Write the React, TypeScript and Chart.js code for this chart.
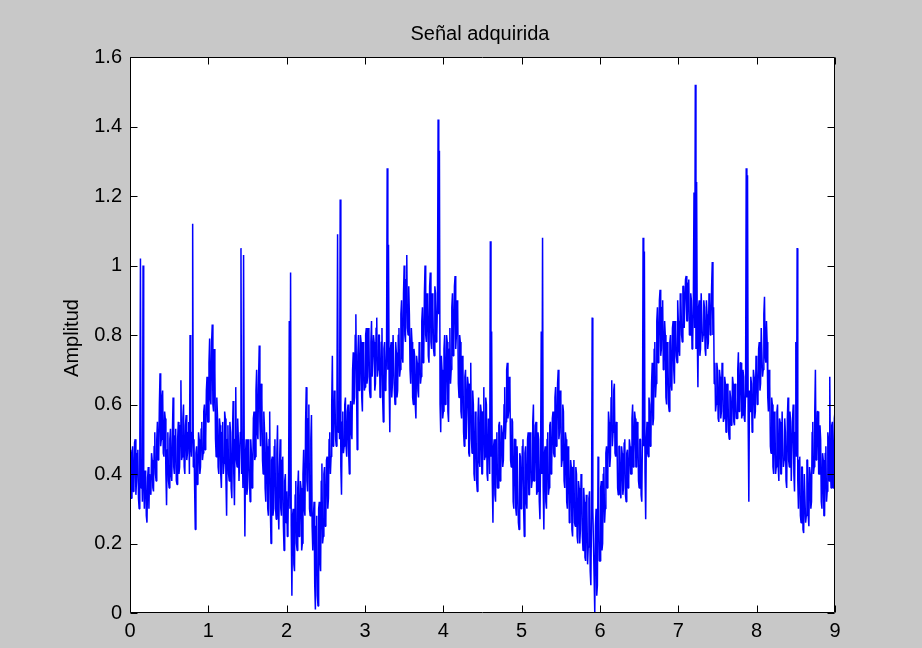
import React, { useEffect, useRef } from "react";
import { Chart, registerables } from "chart.js";

Chart.register(...registerables);

// Sampling: 120 samples per unit of the x axis.
const SAMPLES_PER_UNIT = 120;

// t = 0 .. 1
const seg0 = [
  0.40, 0.47, 0.33, 0.45, 0.48, 0.35, 0.36, 0.49, 0.50, 0.34, 0.38, 0.46, 0.47, 0.33, 0.30, 0.44, 1.02, 0.36, 0.42, 0.32,
  1.00, 0.38, 0.30, 0.41, 0.40, 0.28, 0.26, 0.39, 0.42, 0.30, 0.40, 0.36, 0.34, 0.46, 0.44, 0.36, 0.35, 0.48, 0.52, 0.40,
  0.38, 0.50, 0.55, 0.44, 0.45, 0.60, 0.69, 0.48, 0.50, 0.62, 0.64, 0.46, 0.45, 0.58, 0.56, 0.40, 0.31, 0.47, 0.52, 0.38,
  0.36, 0.50, 0.53, 0.40, 0.38, 0.52, 0.62, 0.42, 0.40, 0.51, 0.53, 0.38, 0.37, 0.50, 0.55, 0.40, 0.42, 0.54, 0.67, 0.44,
  0.45, 0.56, 0.60, 0.42, 0.40, 0.54, 0.57, 0.44, 0.46, 0.52, 0.55, 0.40, 0.80, 0.48, 0.45, 0.52, 1.12, 0.42, 0.50, 0.36,
  0.24, 0.46, 0.48, 0.37, 0.38, 0.52, 0.50, 0.40, 0.42, 0.53, 0.55, 0.44, 0.46, 0.58, 0.60, 0.47, 0.50, 0.64, 0.68, 0.55,
];
// t = 1 .. 2
const seg1 = [
  0.55, 0.72, 0.79, 0.62, 0.60, 0.78, 0.83, 0.60, 0.58, 0.76, 0.70, 0.50, 0.45, 0.62, 0.57, 0.42, 0.40, 0.56, 0.54, 0.40,
  0.36, 0.52, 0.55, 0.40, 0.43, 0.58, 0.56, 0.38, 0.28, 0.50, 0.54, 0.40, 0.38, 0.55, 0.52, 0.36, 0.33, 0.52, 0.61, 0.40,
  0.31, 0.50, 0.65, 0.44, 0.42, 0.56, 0.50, 0.38, 0.38, 0.52, 1.05, 0.40, 0.50, 0.36, 1.03, 0.45, 0.22, 0.46, 0.50, 0.34,
  0.36, 0.50, 0.48, 0.38, 0.32, 0.50, 0.46, 0.36, 0.40, 0.56, 0.58, 0.44, 0.45, 0.64, 0.70, 0.52, 0.50, 0.68, 0.77, 0.55,
  0.48, 0.66, 0.62, 0.44, 0.40, 0.58, 0.53, 0.36, 0.32, 0.52, 0.48, 0.30, 0.28, 0.50, 0.58, 0.30, 0.20, 0.44, 0.45, 0.28,
  0.30, 0.48, 0.50, 0.30, 0.27, 0.46, 0.54, 0.30, 0.24, 0.42, 0.50, 0.30, 0.28, 0.44, 0.45, 0.25, 0.18, 0.38, 0.40, 0.26,
];
// t = 2 .. 3
const seg2 = [
  0.35, 0.22, 0.25, 0.40, 0.84, 0.30, 0.98, 0.25, 0.05, 0.28, 0.30, 0.14, 0.12, 0.34, 0.38, 0.20, 0.18, 0.36, 0.41, 0.22,
  0.25, 0.38, 0.36, 0.18, 0.20, 0.40, 0.47, 0.30, 0.28, 0.55, 0.65, 0.38, 0.35, 0.56, 0.60, 0.30, 0.28, 0.50, 0.57, 0.25,
  0.18, 0.28, 0.32, 0.08, 0.01, 0.25, 0.28, 0.05, 0.02, 0.30, 0.32, 0.15, 0.12, 0.38, 0.43, 0.20, 0.22, 0.40, 0.42, 0.25,
  0.26, 0.44, 0.45, 0.30, 0.33, 0.50, 0.52, 0.40, 0.45, 0.60, 0.74, 0.48, 0.50, 0.64, 0.62, 0.50, 0.48, 0.60, 1.09, 0.52,
  0.60, 0.50, 1.19, 0.42, 0.34, 0.55, 0.58, 0.46, 0.48, 0.60, 0.62, 0.48, 0.45, 0.58, 0.60, 0.46, 0.40, 0.56, 0.61, 0.52,
  0.50, 0.70, 0.75, 0.60, 0.62, 0.80, 0.86, 0.66, 0.47, 0.74, 0.80, 0.64, 0.65, 0.80, 0.78, 0.62, 0.58, 0.78, 0.76, 0.64,
];
// t = 3 .. 4
const seg3 = [
  0.65, 0.80, 0.82, 0.66, 0.68, 0.82, 0.80, 0.64, 0.62, 0.78, 0.84, 0.68, 0.68, 0.80, 0.78, 0.64, 0.66, 0.82, 0.85, 0.68,
  0.70, 0.80, 0.80, 0.62, 0.63, 0.78, 0.82, 0.62, 0.55, 0.76, 0.78, 0.64, 0.66, 0.76, 1.28, 0.70, 1.06, 0.66, 0.52, 0.76,
  0.78, 0.62, 0.66, 0.80, 0.80, 0.64, 0.60, 0.78, 0.75, 0.62, 0.64, 0.80, 0.82, 0.68, 0.70, 0.86, 0.90, 0.74, 0.72, 0.92,
  1.00, 0.80, 0.78, 0.96, 1.03, 0.82, 0.80, 0.94, 0.86, 0.70, 0.66, 0.82, 0.78, 0.62, 0.60, 0.76, 0.74, 0.60, 0.56, 0.74,
  0.72, 0.64, 0.62, 0.78, 0.76, 0.66, 0.68, 0.84, 0.88, 0.72, 0.74, 0.92, 1.00, 0.80, 0.78, 0.92, 0.90, 0.74, 0.72, 0.94,
  0.98, 0.78, 0.76, 0.92, 0.88, 0.76, 0.74, 0.94, 0.92, 0.78, 0.80, 0.90, 1.42, 0.86, 1.33, 0.60, 0.52, 0.74, 0.70, 0.56,
];
// t = 4 .. 5
const seg4 = [
  0.58, 0.76, 0.80, 0.60, 0.62, 0.80, 0.78, 0.58, 0.55, 0.76, 0.82, 0.66, 0.70, 0.88, 0.92, 0.74, 0.78, 0.94, 0.97, 0.76,
  0.80, 0.90, 0.88, 0.66, 0.62, 0.80, 0.78, 0.58, 0.56, 0.74, 0.72, 0.52, 0.48, 0.68, 0.70, 0.50, 0.50, 0.68, 0.66, 0.46,
  0.45, 0.66, 0.72, 0.50, 0.46, 0.64, 0.60, 0.40, 0.38, 0.58, 0.56, 0.38, 0.35, 0.56, 0.62, 0.44, 0.42, 0.60, 0.58, 0.40,
  0.40, 0.58, 0.65, 0.44, 0.45, 0.62, 0.60, 0.40, 0.38, 0.56, 0.55, 0.40, 1.07, 0.45, 0.81, 0.38, 0.26, 0.48, 0.50, 0.34,
  0.32, 0.50, 0.52, 0.36, 0.36, 0.54, 0.55, 0.38, 0.40, 0.54, 0.52, 0.42, 0.44, 0.60, 0.65, 0.50, 0.55, 0.70, 0.72, 0.56,
  0.58, 0.68, 0.66, 0.44, 0.42, 0.56, 0.55, 0.32, 0.30, 0.50, 0.50, 0.30, 0.28, 0.48, 0.48, 0.26, 0.24, 0.46, 0.45, 0.30,
];
// t = 5 .. 6
const seg5 = [
  0.35, 0.48, 0.50, 0.30, 0.22, 0.46, 0.48, 0.32, 0.30, 0.50, 0.52, 0.34, 0.34, 0.52, 0.50, 0.36, 0.38, 0.55, 0.60, 0.38,
  0.40, 0.54, 0.55, 0.34, 0.35, 0.52, 0.50, 0.32, 0.27, 0.45, 0.81, 0.40, 1.08, 0.36, 0.24, 0.46, 0.48, 0.32, 0.30, 0.50,
  0.52, 0.34, 0.36, 0.54, 0.55, 0.40, 0.42, 0.56, 0.58, 0.46, 0.45, 0.62, 0.65, 0.48, 0.50, 0.66, 0.70, 0.50, 0.52, 0.64,
  0.62, 0.42, 0.44, 0.60, 0.58, 0.38, 0.36, 0.52, 0.50, 0.32, 0.30, 0.48, 0.46, 0.26, 0.28, 0.44, 0.42, 0.24, 0.22, 0.42,
  0.44, 0.26, 0.25, 0.42, 0.40, 0.22, 0.20, 0.38, 0.36, 0.20, 0.24, 0.40, 0.38, 0.22, 0.18, 0.36, 0.32, 0.16, 0.15, 0.34,
  0.30, 0.14, 0.19, 0.33, 0.35, 0.12, 0.08, 0.28, 0.85, 0.30, 0.20, 0.10, 0.00, 0.25, 0.30, 0.05, 0.08, 0.45, 0.32, 0.15,
];
// t = 6 .. 7
const seg6 = [
  0.15, 0.36, 0.38, 0.18, 0.20, 0.40, 0.42, 0.26, 0.30, 0.46, 0.48, 0.36, 0.40, 0.58, 0.55, 0.42, 0.45, 0.62, 0.67, 0.48,
  0.52, 0.64, 0.66, 0.46, 0.45, 0.55, 0.50, 0.36, 0.34, 0.48, 0.48, 0.35, 0.33, 0.48, 0.46, 0.34, 0.36, 0.49, 0.50, 0.34,
  0.32, 0.46, 0.47, 0.36, 0.38, 0.50, 0.48, 0.40, 0.40, 0.56, 0.60, 0.42, 0.46, 0.58, 0.56, 0.42, 0.42, 0.55, 0.52, 0.38,
  0.36, 0.50, 0.50, 0.34, 0.32, 0.50, 1.08, 0.48, 1.04, 0.40, 0.27, 0.50, 0.55, 0.46, 0.45, 0.62, 0.60, 0.48, 0.50, 0.66,
  0.72, 0.54, 0.56, 0.76, 0.78, 0.62, 0.66, 0.84, 0.88, 0.72, 0.75, 0.90, 0.93, 0.74, 0.76, 0.88, 0.90, 0.70, 0.72, 0.84,
  0.80, 0.62, 0.60, 0.78, 0.76, 0.60, 0.58, 0.78, 0.80, 0.66, 0.64, 0.82, 0.84, 0.70, 0.66, 0.84, 0.82, 0.74, 0.72, 0.90,
];
// t = 7 .. 8
const seg7 = [
  0.84, 0.76, 0.74, 0.92, 0.90, 0.80, 0.78, 0.94, 0.94, 0.82, 0.82, 0.96, 0.97, 0.84, 0.84, 0.95, 0.96, 0.80, 0.80, 0.92,
  0.90, 0.76, 0.78, 0.90, 1.21, 0.82, 1.52, 0.76, 1.24, 0.80, 0.65, 0.88, 0.90, 0.74, 0.76, 0.92, 0.92, 0.78, 0.80, 0.90,
  0.88, 0.76, 0.74, 0.90, 0.86, 0.76, 0.78, 0.92, 0.90, 0.80, 0.84, 0.94, 1.01, 0.80, 0.88, 0.66, 0.72, 0.58, 0.60, 0.72,
  0.70, 0.56, 0.55, 0.70, 0.68, 0.56, 0.58, 0.72, 0.70, 0.55, 0.56, 0.68, 0.66, 0.52, 0.52, 0.66, 0.64, 0.52, 0.50, 0.64,
  0.62, 0.54, 0.55, 0.68, 0.66, 0.55, 0.54, 0.66, 0.62, 0.56, 0.56, 0.70, 0.75, 0.58, 0.60, 0.72, 0.72, 0.56, 0.57, 0.70,
  0.68, 0.56, 0.55, 0.64, 1.28, 0.62, 1.26, 0.55, 0.32, 0.64, 0.58, 0.68, 0.66, 0.52, 0.55, 0.70, 0.68, 0.56, 0.58, 0.74,
];
// t = 8 .. 9
const seg8 = [
  0.70, 0.60, 0.62, 0.76, 0.78, 0.64, 0.66, 0.82, 0.82, 0.68, 0.70, 0.86, 0.91, 0.74, 0.72, 0.84, 0.78, 0.62, 0.58, 0.70,
  0.66, 0.48, 0.46, 0.62, 0.60, 0.42, 0.40, 0.58, 0.56, 0.40, 0.42, 0.58, 0.60, 0.42, 0.38, 0.56, 0.55, 0.40, 0.40, 0.58,
  0.58, 0.42, 0.44, 0.56, 0.52, 0.38, 0.36, 0.56, 0.62, 0.44, 0.42, 0.58, 0.55, 0.38, 0.38, 0.56, 0.60, 0.40, 0.35, 0.52,
  0.78, 0.45, 1.05, 0.38, 0.30, 0.44, 0.45, 0.28, 0.26, 0.42, 0.42, 0.24, 0.23, 0.40, 0.40, 0.26, 0.28, 0.44, 0.44, 0.28,
  0.25, 0.42, 0.40, 0.30, 0.32, 0.52, 0.55, 0.40, 0.42, 0.58, 0.70, 0.44, 0.45, 0.58, 0.58, 0.40, 0.40, 0.54, 0.50, 0.32,
  0.30, 0.46, 0.44, 0.28, 0.28, 0.46, 0.48, 0.32, 0.35, 0.52, 0.50, 0.38, 0.68, 0.42, 0.36, 0.54, 0.55, 0.36, 0.40, 0.56,
];
// t = 9
const lastSample = [0.58];

const xTickValues = [0, 1, 2, 3, 4, 5, 6, 7, 8, 9];
const xTickLabels = ["0", "1", "2", "3", "4", "5", "6", "7", "8", "9"];
const yTickValues = [0, 0.2, 0.4, 0.6, 0.8, 1, 1.2, 1.4, 1.6];
const yTickLabels = ["0", "0.2", "0.4", "0.6", "0.8", "1", "1.2", "1.4", "1.6"];

const titleText = "Señal adquirida";
const yAxisText = "Amplitud";

const FONT = '"Liberation Sans", Arial, Helvetica, sans-serif';

const amplitude = [
  ...seg0, ...seg1, ...seg2, ...seg3, ...seg4, ...seg5, ...seg6, ...seg7, ...seg8, ...lastSample,
];

const matlabFrame = {
  id: "matlabFrame",
  beforeDraw(chart: any) {
    const { ctx, chartArea: a } = chart;
    ctx.save();
    ctx.fillStyle = "#c8c8c8";
    ctx.fillRect(0, 0, chart.width, chart.height);
    ctx.fillStyle = "#ffffff";
    ctx.fillRect(a.left, a.top, a.right - a.left, a.bottom - a.top);
    ctx.restore();
  },
  afterDraw(chart: any) {
    const { ctx, chartArea: a, scales } = chart;
    const xs = scales.x;
    const ys = scales.y;
    const L = Math.round(a.left) + 0.5;
    const R = Math.round(a.right) - 0.5;
    const T = Math.round(a.top) + 0.5;
    const B = Math.round(a.bottom) - 0.5;
    const tick = 7;
    ctx.save();
    ctx.strokeStyle = "#000000";
    ctx.lineWidth = 1;
    ctx.beginPath();
    ctx.rect(L, T, R - L, B - T);
    xTickValues.forEach((v) => {
      const px = Math.round(xs.getPixelForValue(v)) + 0.5;
      ctx.moveTo(px, B);
      ctx.lineTo(px, B - tick);
      ctx.moveTo(px, T);
      ctx.lineTo(px, T + tick);
    });
    yTickValues.forEach((v) => {
      const py = Math.round(ys.getPixelForValue(v)) + 0.5;
      ctx.moveTo(L, py);
      ctx.lineTo(L + tick, py);
      ctx.moveTo(R, py);
      ctx.lineTo(R - tick, py);
    });
    ctx.stroke();

    ctx.fillStyle = "#000000";
    ctx.font = `20px ${FONT}`;
    ctx.textAlign = "center";
    ctx.textBaseline = "alphabetic";
    ctx.fillText(titleText, 480, 40);

    ctx.translate(78, 338);
    ctx.rotate(-Math.PI / 2);
    ctx.fillText(yAxisText, 0, 0);
    ctx.restore();
  },
};

export default function App() {
  const canvasRef = useRef<HTMLCanvasElement | null>(null);

  useEffect(() => {
    const canvas = canvasRef.current;
    if (!canvas) return;
    const points = amplitude.map((v, i) => ({ x: i / SAMPLES_PER_UNIT, y: v }));
    const chart = new Chart(canvas, {
      type: "line",
      data: {
        datasets: [
          {
            data: points,
            borderColor: "#0000ff",
            borderWidth: 1.5,
            borderJoinStyle: "bevel",
            pointRadius: 0,
            tension: 0,
            fill: false,
          },
        ],
      },
      options: {
        animation: false,
        responsive: false,
        devicePixelRatio: 1,
        parsing: false,
        normalized: true,
        layout: { padding: { top: 57, right: 87, left: 0, bottom: 0 } },
        plugins: {
          legend: { display: false },
          tooltip: { enabled: false },
          title: { display: false },
        },
        scales: {
          x: {
            type: "linear",
            min: 0,
            max: 9,
            grid: { display: false, drawTicks: false },
            border: { display: false },
            afterBuildTicks: (scale: any) => {
              scale.ticks = xTickValues.map((v) => ({ value: v }));
            },
            afterFit: (scale: any) => {
              scale.height = 35;
            },
            ticks: {
              autoSkip: false,
              maxRotation: 0,
              padding: 6,
              color: "#000000",
              font: { family: FONT, size: 20 },
              callback: (_v: any, i: number) => xTickLabels[i],
            },
          },
          y: {
            type: "linear",
            min: 0,
            max: 1.6,
            grid: { display: false, drawTicks: false },
            border: { display: false },
            afterBuildTicks: (scale: any) => {
              scale.ticks = yTickValues.map((v) => ({ value: v }));
            },
            afterFit: (scale: any) => {
              scale.width = 130;
            },
            ticks: {
              autoSkip: false,
              padding: 8,
              color: "#000000",
              font: { family: FONT, size: 20 },
              callback: (_v: any, i: number) => yTickLabels[i],
            },
          },
        },
      },
      plugins: [matlabFrame],
    });
    return () => chart.destroy();
  }, []);

  return (
    <div style={{ position: "absolute", left: 0, top: 0, width: 922, height: 648, background: "#c8c8c8" }}>
      <canvas ref={canvasRef} width={922} height={648} style={{ display: "block" }} />
    </div>
  );
}
